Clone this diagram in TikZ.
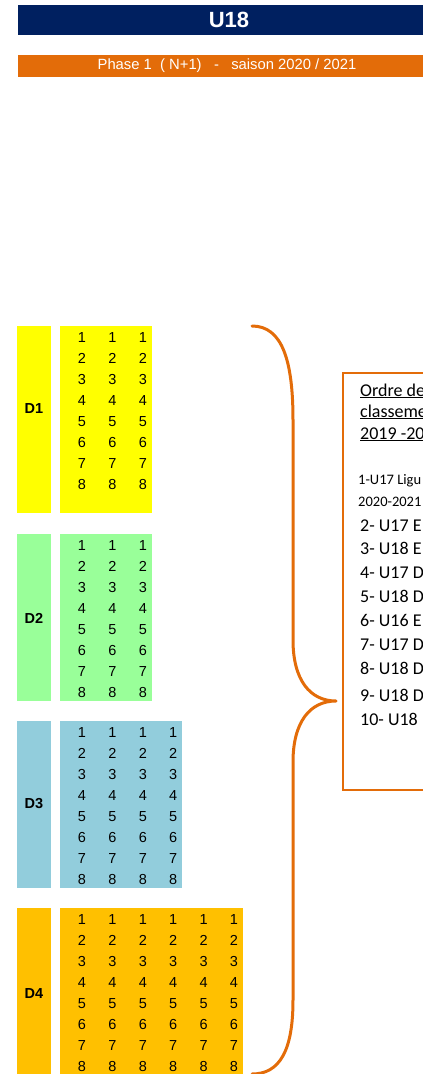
\documentclass[tikz,border=0pt]{standalone}
\usepackage{fontspec}
\setmainfont{Liberation Sans}
\newfontfamily\calibri{Carlito}

\definecolor{navyU}{HTML}{002060}
\definecolor{orangeBar}{HTML}{E36C09}
\definecolor{divA}{HTML}{FFFF00}
\definecolor{divB}{HTML}{99FF99}
\definecolor{divC}{HTML}{92CDDC}
\definecolor{divD}{HTML}{FFC000}

\tikzset{
  titlebar/.style={fill=navyU,text=white,inner sep=0pt,minimum width=422pt,
    minimum height=30pt,font=\fontsize{22}{24}\selectfont\bfseries},
  phasebar/.style={fill=orangeBar,text=white,inner sep=0pt,minimum width=418pt,
    minimum height=22pt,font=\fontsize{14.8}{16}\selectfont},
  divlabel/.style={inner sep=0pt,font=\fontsize{14.5}{16}\selectfont\bfseries},
  num/.style={inner sep=0pt,font=\fontsize{14.5}{16}\selectfont},
  notetext/.style={anchor=base west,inner sep=0pt,font=\calibri\fontsize{18}{20}\selectfont},
  notesmall/.style={anchor=base west,inner sep=0pt,font=\calibri\fontsize{14.5}{16}\selectfont},
  brace/.style={draw=orangeBar,line width=3pt,line cap=round,line join=round},
}

\begin{document}
\begin{tikzpicture}[x=1pt,y=-1pt]
\useasboundingbox (0,0) rectangle (423,1074);
\clip (0,0) rectangle (423,1074);

% header
\node[titlebar] (title) at (229,20) {U18};
\node[phasebar] (phase) at (227,66) {Phase 1 \ ( N+1) \ \ - \ \ saison 2020 / 2021};

% divisions
\foreach \name/\top/\bot/\col/\ncols/\right/\ly in {D1/326/513/divA/3/152/409,
    D2/534/701/divB/3/152/618, D3/721/888/divC/4/182/804, D4/908/1074/divD/6/243/993}{
  \fill[\col] (17,\top) rectangle (51,\bot);
  \fill[\col] (60,\top) rectangle (\right,\bot);
  \node[divlabel] (\name) at (34,\ly) {\name};
  \foreach \c in {1,...,\ncols}
    \foreach \r in {1,...,8}
      \node[num] (\name-\c-\r) at ({82+(\c-1)*30.4},{\top+12+(\r-1)*20.9}) {\r};
}

% accolade
\coordinate (tip) at (336,701);
\draw[brace] (252,326) .. controls (282,326) and (293,360) .. (293,420)
  -- (293,640) .. controls (293,680) and (310,701) .. (tip)
  .. controls (310,701) and (293,722) .. (293,762)
  -- (293,1000) .. controls (293,1050) and (280,1074) .. (252,1074);

% ordre de classement
\draw[draw=orangeBar,line width=1.3pt] (343,373) rectangle (440,790);
\node[notetext] (ordre1) at (360,396) {\underline{Ordre de\ \ }};
\node[notetext] (ordre2) at (360,417) {\underline{classeme}};
\node[notetext] (ordre3) at (360,439) {\underline{2019 -20}};
\node[notesmall] (rang1) at (358,484) {1-U17 Ligu};
\node[notesmall] (rang1b) at (358,506) {2020-2021};
\node[notetext] (rang2) at (360,531.5) {2- U17 E};
\node[notetext] (rang3) at (360,554.5) {3- U18 E};
\node[notetext] (rang4) at (360,578.5) {4- U17 D};
\node[notetext] (rang5) at (360,602.5) {5- U18 D};
\node[notetext] (rang6) at (360,626.5) {6- U16 E};
\node[notetext] (rang7) at (360,650.5) {7- U17 D};
\node[notetext] (rang8) at (360,674.5) {8- U18 D};
\node[notetext] (rang9) at (360,701.5) {9- U18 D};
\node[notetext] (rang10) at (360,725.5) {10- U18};
\end{tikzpicture}
\end{document}
